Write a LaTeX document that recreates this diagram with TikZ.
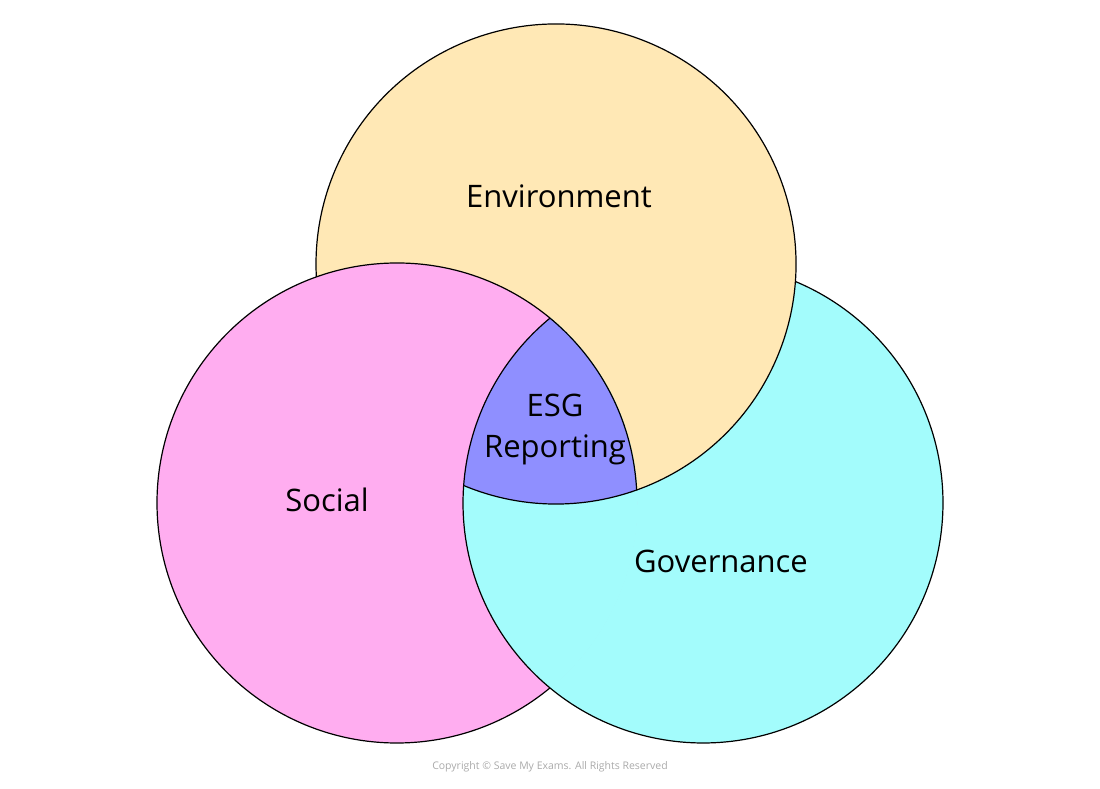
\documentclass[tikz,border=0pt]{standalone}
\usepackage{fontspec}
\setmainfont{Open Sans}
\definecolor{envY}{RGB}{255,232,181}
\definecolor{socP}{RGB}{255,173,240}
\definecolor{govC}{RGB}{163,252,252}
\definecolor{esgV}{RGB}{143,143,255}
\definecolor{copyG}{RGB}{170,170,170}
\tikzset{
  edge/.style={draw=black,line width=1.2pt},
  lbl/.style={font=\fontsize{31}{41}\selectfont,text=black,align=center},
}
\begin{document}
\begin{tikzpicture}[x=1pt,y=1pt]
\useasboundingbox (0,0) rectangle (1100,789);
\coordinate (cE) at (556,525);
\coordinate (cS) at (397,286);
\coordinate (cG) at (703,286);
% base fills
\fill[govC] (cG) circle[radius=240];
\fill[envY] (cE) circle[radius=240];
\fill[socP] (cS) circle[radius=240];
% governance over social
\begin{scope}
  \clip (cS) circle[radius=240.6];
  \fill[govC] (cG) circle[radius=240];
\end{scope}
\begin{scope}
  \clip (cS) circle[radius=240];
  \clip (cG) circle[radius=240];
  \fill[esgV] (cE) circle[radius=240];
\end{scope}
% visible boundaries
\draw[edge] (cE) ++(-112.63:240) arc[start angle=-112.63, end angle=183.09, radius=240];
\draw[edge] (cS) ++(3.09:240) arc[start angle=3.09, end angle=309.61, radius=240];
\draw[edge] (cG) ++(129.61:240) arc[start angle=129.61, end angle=427.37, radius=240];
% labels
\node[lbl] (env) at (559,593) {Environment};
\node[lbl] (soc) at (327,289) {Social};
\node[lbl] (gov) at (721,228) {Governance};
\node[lbl] (esg) at (555,359) {ESG\\Reporting};
\node[font=\fontsize{10.5}{12}\selectfont,text=copyG] (copy) at (550,22) {Copyright © Save My Exams. All Rights Reserved};
\end{tikzpicture}
\end{document}
